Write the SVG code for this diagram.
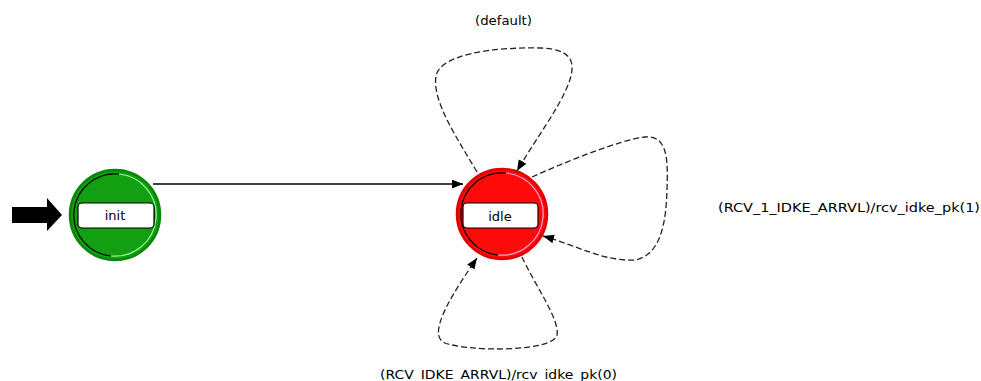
<svg xmlns="http://www.w3.org/2000/svg" width="981" height="381" viewBox="0 0 981 381">
<defs>
<style>
.lbl{font-family:"DejaVu Sans",Verdana,sans-serif;font-size:13px;fill:#000}
.name{font-family:"DejaVu Sans",Verdana,sans-serif;font-size:13px;fill:#000;text-anchor:middle}
.box{fill:#fff;stroke:#000;stroke-width:1.2}
.tr{fill:none;stroke:#000;stroke-width:1.3}
.loop{fill:none;stroke:#222;stroke-width:1.3;stroke-dasharray:6 3}
</style>
<marker id="ah" viewBox="0 0 10 8" refX="10" refY="4" markerWidth="11" markerHeight="9" markerUnits="userSpaceOnUse" orient="auto">
<path d="M0,0 L10,4 L0,8 Z" fill="#000" stroke="none"/>
</marker>
</defs>
<rect width="981" height="381" fill="#fff"/>

<g id="start-arrow">
<polygon points="12,207 47,207 47,198 62,215 47,231 47,223 12,223" fill="#000"/>
</g>

<g id="init">
<circle cx="115" cy="215" r="45" fill="#12a012" stroke="#0a870a" stroke-width="2.5"/>
<path d="M119,174 A41,41 0 0 0 111,256" fill="none" stroke="#000" stroke-width="1.2"/>
<path d="M119,174 A41,41 0 0 1 111,256" fill="none" stroke="#9af29a" stroke-width="1.2"/>
<rect class="box" x="78" y="203" width="76" height="25" rx="4"/>
<text class="name" x="115" y="220">init</text>
</g>

<g id="idle">
<circle cx="502" cy="214" r="45" fill="#ff0a0a" stroke="#e00000" stroke-width="2.5"/>
<path d="M506,173 A41,41 0 0 0 498,255" fill="none" stroke="#000" stroke-width="1.2"/>
<path d="M506,173 A41,41 0 0 1 498,255" fill="none" stroke="#f2a0d8" stroke-width="1.2"/>
<rect class="box" x="463" y="203" width="75" height="25" rx="4"/>
<text class="name" x="500" y="221">idle</text>
</g>

<g id="connectors">
<line class="tr" x1="153" y1="184" x2="463" y2="184" marker-end="url(#ah)"/>
<path class="loop" d="M477,172 C455,135 432,100 436,76 C440,55 490,47 540,48 C570,49 578,60 568,85 C558,110 535,140 517,171" marker-end="url(#ah)"/>
<path class="loop" d="M532,177 C570,160 620,140 645,137 C668,135 668,160 667,190 C666,225 660,255 635,260 C605,262 575,245 543,236" marker-end="url(#ah)"/>
<path class="loop" d="M522,257 C535,285 560,320 557,335 C553,352 470,352 445,343 C425,335 455,290 477,258" marker-end="url(#ah)"/>
</g>

<g id="labels">
<text class="lbl" x="475" y="25" textLength="57" lengthAdjust="spacingAndGlyphs">(default)</text>
<text class="lbl" x="718" y="212" textLength="262" lengthAdjust="spacingAndGlyphs">(RCV_1_IDKE_ARRVL)/rcv_idke_pk(1)</text>
<text class="lbl" x="380" y="379" textLength="237" lengthAdjust="spacingAndGlyphs">(RCV_IDKE_ARRVL)/rcv_idke_pk(0)</text>
</g>
</svg>
